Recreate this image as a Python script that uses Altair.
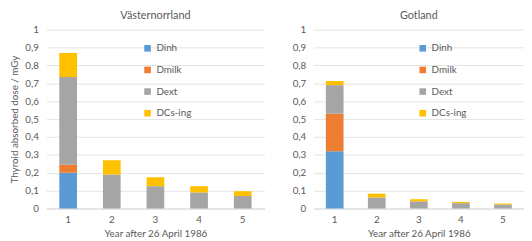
import altair as alt
import pandas as pd

years = [1, 2, 3, 4, 5]
components = ["Dinh", "Dmilk", "Dext", "DCs-ing"]
colors = ["#5B9BD5", "#ED7D31", "#A5A5A5", "#FFC000"]

vn_dinh = [0.20, 0, 0, 0, 0]
vn_dmilk = [0.045, 0, 0, 0, 0]
vn_dext = [0.49, 0.19, 0.125, 0.09, 0.07]
vn_dcs = [0.135, 0.08, 0.05, 0.035, 0.027]

go_dinh = [0.32, 0, 0, 0, 0]
go_dmilk = [0.21, 0, 0, 0, 0]
go_dext = [0.16, 0.062, 0.04, 0.03, 0.022]
go_dcs = [0.023, 0.021, 0.012, 0.007, 0.006]


def frame(series):
    rows = []
    for ci, (comp, vals) in enumerate(zip(components, series)):
        for y, v in zip(years, vals):
            rows.append({"year": y, "component": comp, "value": v, "ord": ci})
    return pd.DataFrame(rows)


df_vn = frame([vn_dinh, vn_dmilk, vn_dext, vn_dcs])
df_go = frame([go_dinh, go_dmilk, go_dext, go_dcs])

FONT = "Lato"
TXT = "#595959"


def panel(df, title, width, ytitle, legend_x):
    return alt.Chart(df).mark_bar(size=18).encode(
        x=alt.X("year:O", title="Year after 26 April 1986",
                scale=alt.Scale(paddingInner=0.6, paddingOuter=0.3),
                axis=alt.Axis(labelAngle=0, ticks=False, domainColor="#D9D9D9",
                              labelPadding=6, titlePadding=4)),
        y=alt.Y("value:Q", stack="zero", title=ytitle,
                scale=alt.Scale(domain=[0, 1]),
                axis=alt.Axis(values=[0, 0.1, 0.2, 0.3, 0.4, 0.5, 0.6, 0.7, 0.8, 0.9, 1.0],
                              labelExpr="replace(format(datum.value, '.1~f'), '.', ',')",
                              domain=False, ticks=False, gridColor="#E3E3E3",
                              labelPadding=8, titlePadding=5)),
        color=alt.Color("component:N", scale=alt.Scale(domain=components, range=colors),
                        legend=alt.Legend(title=None, orient="none", legendX=legend_x,
                                          legendY=14, symbolType="square", symbolSize=45,
                                          symbolStrokeWidth=0, rowPadding=12,
                                          labelFontSize=10, labelColor=TXT, labelFont=FONT)),
        order=alt.Order("ord:Q", sort="ascending"),
    ).properties(
        width=width, height=182,
        title=alt.TitleParams(title, fontSize=11, fontWeight="normal", color=TXT,
                              font=FONT, offset=4),
    )


left = panel(df_vn, "Västernorrland", 222, "Thyroid absorbed dose / mGy", 98)
right = panel(df_go, "Gotland", 214, None, 106)

chart = alt.hconcat(left, right, spacing=28).resolve_scale(color="independent").properties(
    padding={"left": 2, "top": 0, "right": 0, "bottom": 0}
).configure_view(stroke=None).configure_axis(
    labelFont=FONT, titleFont=FONT, labelColor=TXT, titleColor=TXT,
    labelFontSize=10, titleFontSize=10, titleFontWeight="normal"
)

chart.save("out.html", embed_options={"renderer": "svg", "actions": False})
